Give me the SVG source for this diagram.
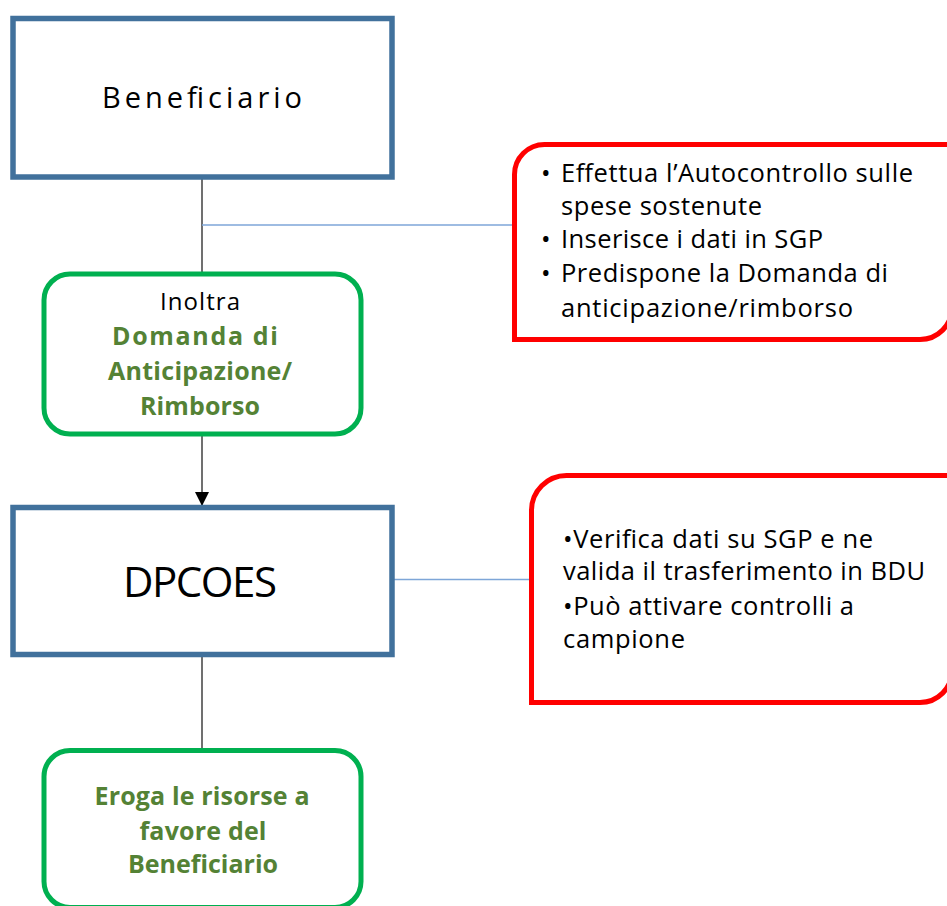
<svg xmlns="http://www.w3.org/2000/svg" width="947" height="906" viewBox="0 0 947 906">
<defs>
<style>
.blue{fill:#fff;stroke:#41719c;stroke-width:5.5}
.green{fill:#fff;stroke:#00b050;stroke-width:5}
.red{fill:#fff;stroke:#ff0000;stroke-width:5}
.t{font-family:"Open Sans","Liberation Sans",sans-serif;fill:#000}
.g{font-family:"Open Sans","Liberation Sans",sans-serif;font-weight:bold;fill:#548235;font-size:25px}
.b{font-family:"Open Sans","Liberation Sans",sans-serif;fill:#000;font-size:25.5px}
.conn{stroke:#404040;stroke-width:1.5;fill:none}
.link{stroke:#7ea6d8;stroke-width:1.3;fill:none}
</style>
<marker id="arr" viewBox="0 0 14 14" refX="14" refY="7" markerWidth="14" markerHeight="14" markerUnits="userSpaceOnUse" orient="auto">
<path d="M0,0 L14,7 L0,14 Z" fill="#000"/>
</marker>
</defs>
<rect width="947" height="906" fill="#fff"/>

<g id="connectors">
<line class="conn" x1="202" y1="178" x2="202" y2="273"/>
<line class="link" x1="202" y1="225" x2="514" y2="225"/>
<line class="conn" x1="202" y1="436" x2="202" y2="506" marker-end="url(#arr)"/>
<line class="link" x1="394" y1="579.5" x2="531" y2="579.5"/>
<line class="conn" x1="202" y1="655" x2="202" y2="750"/>
</g>

<g id="beneficiario">
<rect class="blue" x="13" y="18.5" width="379" height="158.5"/>
<text class="t" x="202" y="108" font-size="29" text-anchor="middle" textLength="200">Beneficiario</text>
</g>

<g id="inoltra">
<rect class="green" x="44" y="274" width="317" height="160" rx="26"/>
<text class="t" x="200" y="310" font-size="24" text-anchor="middle" textLength="80">Inoltra</text>
<text class="g" x="195" y="345" text-anchor="middle" textLength="166">Domanda di</text>
<text class="g" x="200" y="380" text-anchor="middle" textLength="184">Anticipazione/</text>
<text class="g" x="200" y="415" text-anchor="middle" textLength="120">Rimborso</text>
</g>

<g id="dpcoes">
<rect class="blue" x="13" y="507.5" width="379" height="147"/>
<text class="t" x="200" y="597" font-size="42" text-anchor="middle" textLength="154">DPCOES</text>
</g>

<g id="eroga">
<rect class="green" x="44" y="750.5" width="317" height="157" rx="26"/>
<text class="g" x="202" y="805" text-anchor="middle" textLength="215">Eroga le risorse a</text>
<text class="g" x="203" y="840" text-anchor="middle" textLength="127">favore del</text>
<text class="g" x="203" y="873" text-anchor="middle" textLength="150">Beneficiario</text>
</g>

<g id="note-beneficiario">
<path class="red" d="M514.5,339.5 V174.5 A30,30 0 0 1 544.5,144.5 H952 V307.5 A32,32 0 0 1 920,339.5 Z"/>
<text class="b" x="541" y="182">•</text>
<text class="b" x="561" y="182" textLength="352">Effettua l’Autocontrollo sulle</text>
<text class="b" x="561" y="215" textLength="201">spese sostenute</text>
<text class="b" x="541" y="248">•</text>
<text class="b" x="561" y="248" textLength="262">Inserisce i dati in SGP</text>
<text class="b" x="541" y="282">•</text>
<text class="b" x="561" y="282" textLength="327">Predispone la Domanda di</text>
<text class="b" x="561" y="317" textLength="292">anticipazione/rimborso</text>
</g>

<g id="note-dpcoes">
<path class="red" d="M531.5,702.5 V510.5 A35,35 0 0 1 566.5,475.5 H952 V670.5 A32,32 0 0 1 920,702.5 Z"/>
<text class="b" x="563" y="548" textLength="310">•Verifica dati su SGP e ne</text>
<text class="b" x="563" y="580" textLength="362">valida il trasferimento in BDU</text>
<text class="b" x="563" y="615" textLength="291">•Può attivare controlli a</text>
<text class="b" x="563" y="648" textLength="122">campione</text>
</g>
</svg>
